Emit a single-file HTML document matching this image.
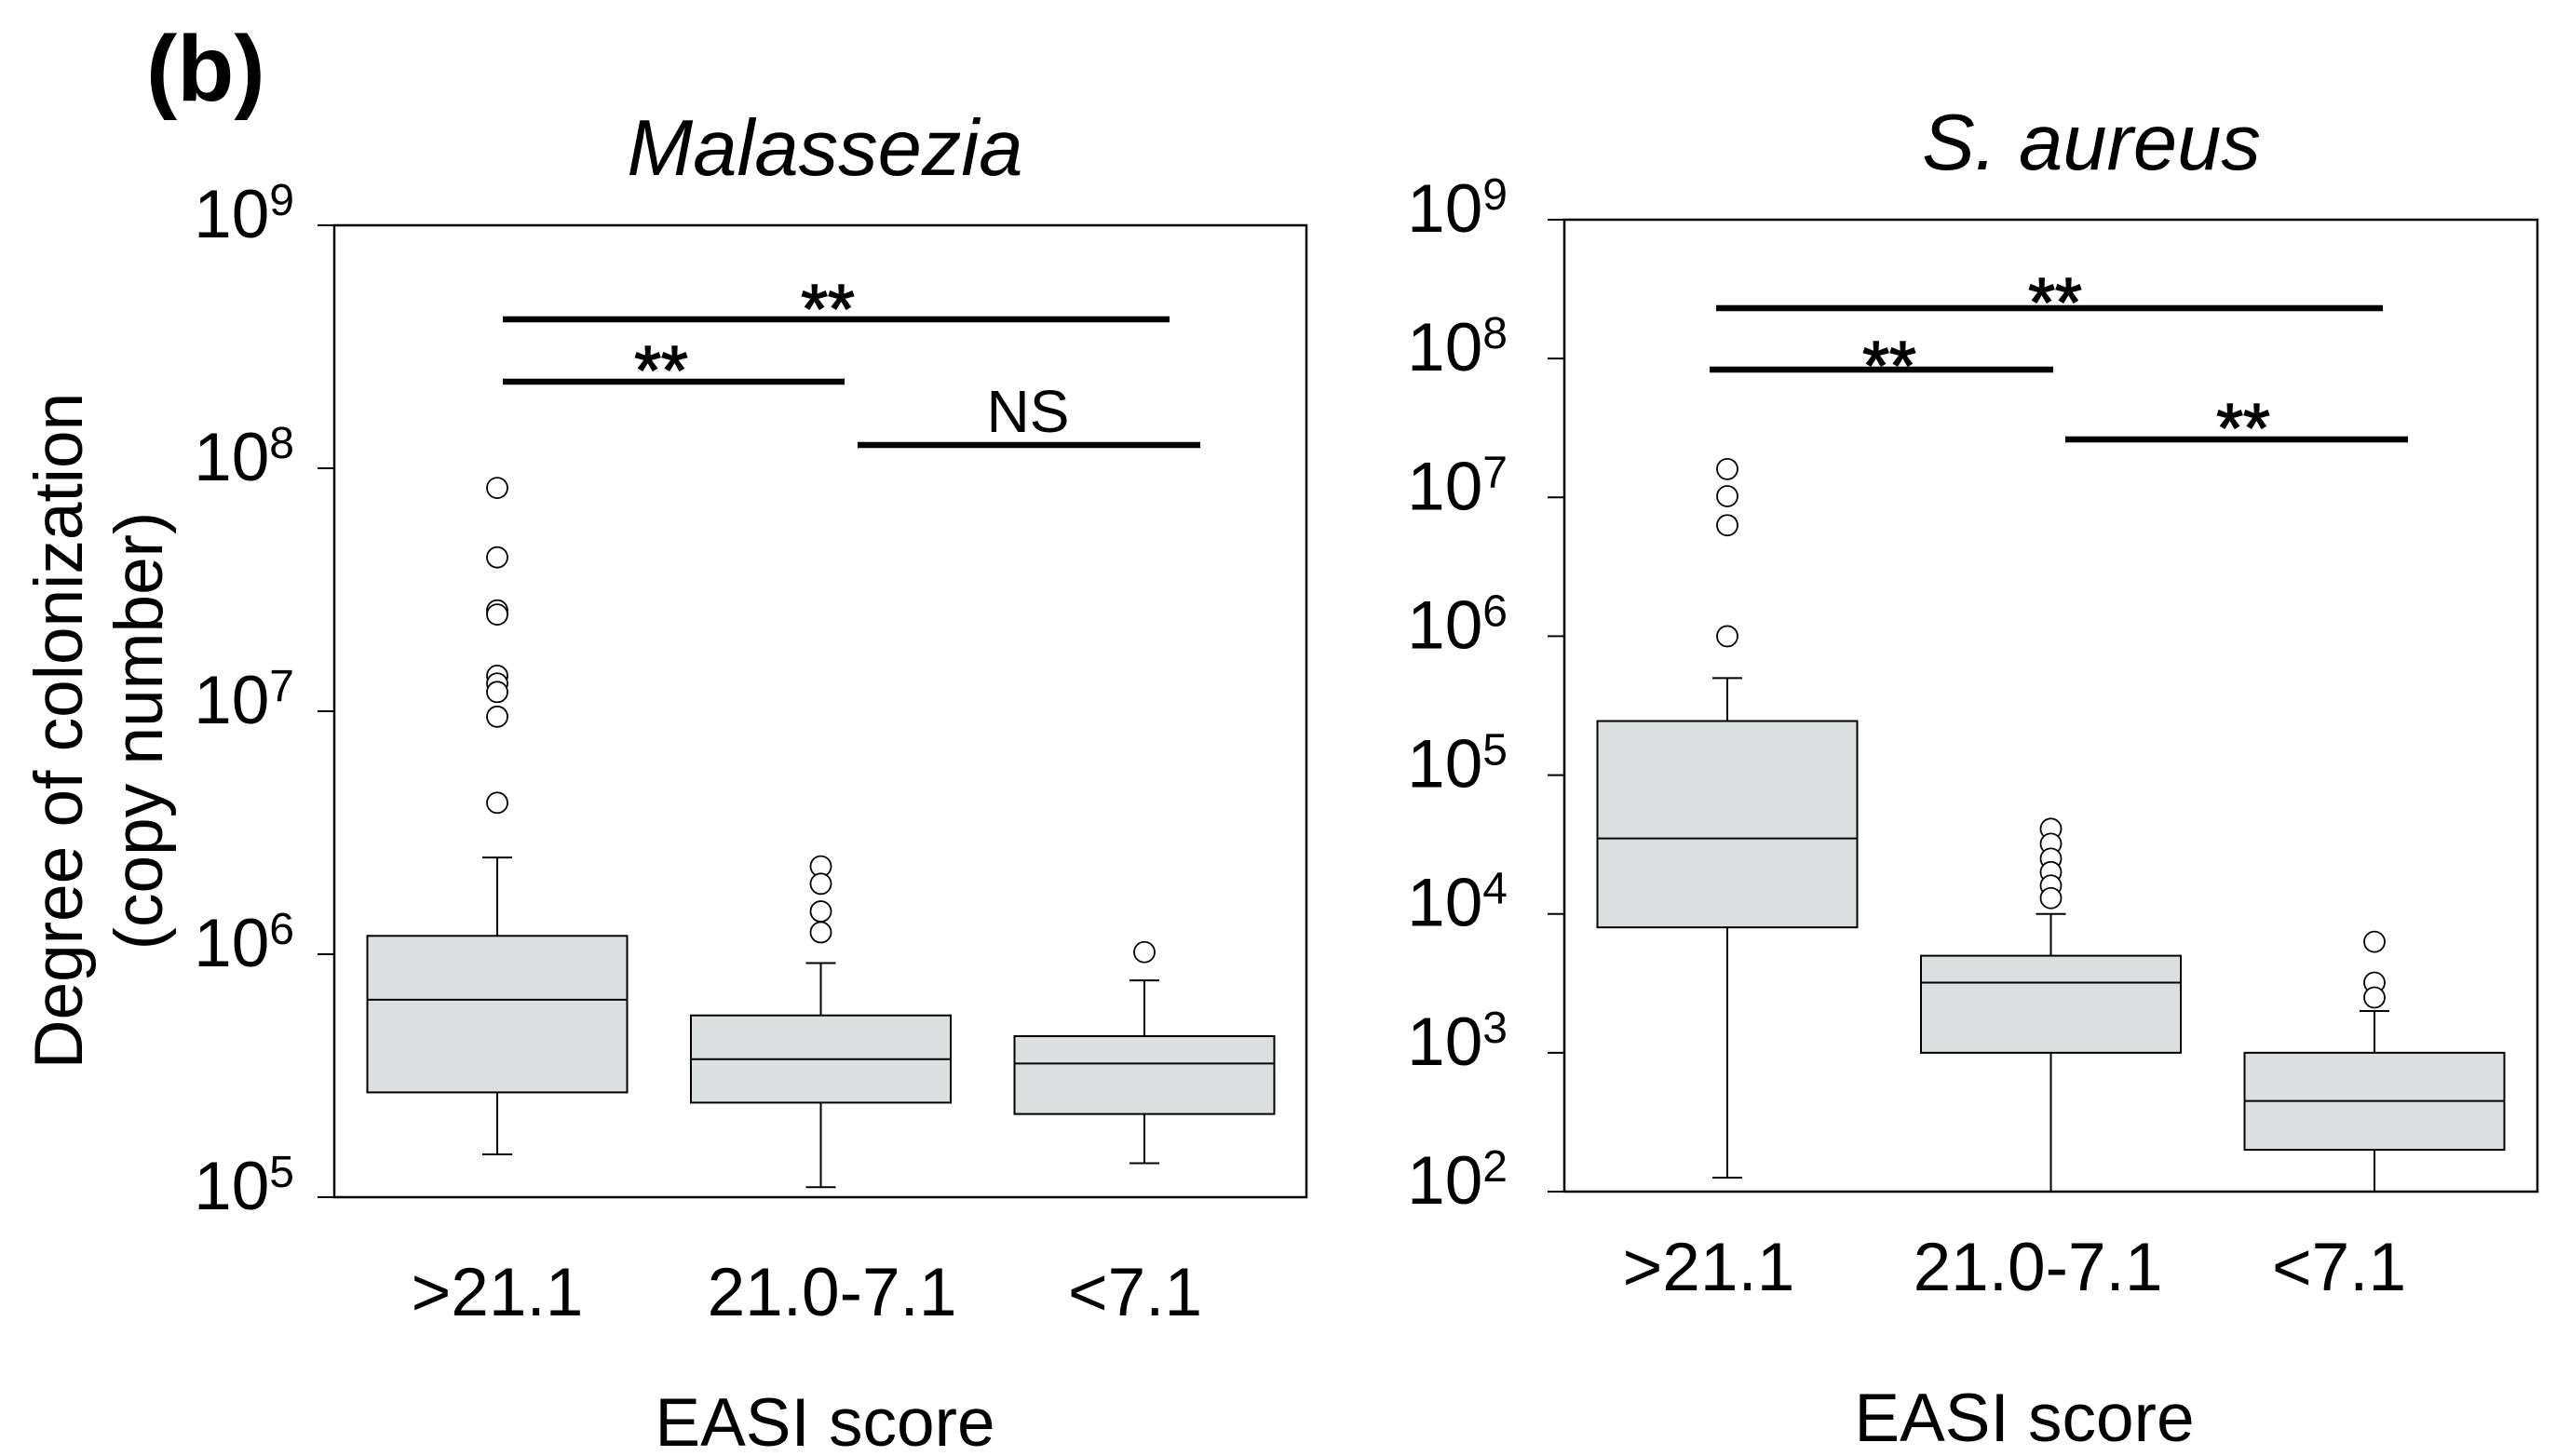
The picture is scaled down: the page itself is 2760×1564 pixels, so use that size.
<!DOCTYPE html>
<html><head><meta charset="utf-8">
<style>
html,body{margin:0;padding:0;background:#fff;}
svg{display:block;font-family:"Liberation Sans",Arial,sans-serif;}
</style></head>
<body>
<svg id="fig" width="2760" height="1564" viewBox="0 0 2760 1564" xmlns="http://www.w3.org/2000/svg">
<text x="157" y="108" font-size="100" font-weight="bold">(b)</text>
<text transform="translate(88,785) rotate(-90)" text-anchor="middle" font-size="73">Degree of colonization</text>
<text transform="translate(174,785) rotate(-90)" text-anchor="middle" font-size="73">(copy number)</text>
</svg>
<script>
const categories = [">21.1", "21.0-7.1", "<7.1"];
// Malassezia (copy number)
const malQ1 = [2.7e5, 2.45e5, 2.2e5];
const malQ3 = [1.19e6, 5.6e5, 4.6e5];
const malMedian = [6.5e5, 3.7e5, 3.55e5];
const malWhiskerLow = [1.5e5, 1.1e5, 1.38e5];
const malWhiskerHigh = [2.5e6, 9.2e5, 7.8e5];
const malOutliers = [[8.3e7,4.3e7,2.6e7,2.5e7,1.4e7,1.3e7,1.2e7,9.5e6,4.2e6],[2.3e6,1.95e6,1.5e6,1.23e6],[1.02e6]];
const malTickExps = [5,6,7,8,9];
// S. aureus (copy number)
const saQ1 = [8e3, 1e3, 2e2];
const saQ3 = [2.45e5, 5e3, 1e3];
const saMedian = [3.5e4, 3.2e3, 4.5e2];
const saWhiskerLow = [1.26e2, 1e2, 1e2];
const saWhiskerHigh = [5e5, 1e4, 2e3];
const saOutliers = [[1.6e7,1.02e7,6.3e6,1e6],[4.1e4,3.2e4,2.5e4,2e4,1.6e4,1.3e4],[6.3e3,3.2e3,2.5e3]];
const saTickExps = [2,3,4,5,6,7,8,9];
// significance annotations: [fromGroup, toGroup, label]
const malSig = [[0,2,"**"],[0,1,"**"],[1,2,"NS"]];
const saSig = [[0,2,"**"],[0,1,"**"],[1,2,"**"]];

const NS = "http://www.w3.org/2000/svg";
const svg = document.getElementById('fig');
function mk(tag, attrs, parent){
  const e = document.createElementNS(NS, tag);
  for (const k in attrs) e.setAttribute(k, attrs[k]);
  (parent||svg).appendChild(e);
  return e;
}

function panel(cfg){
  const g = mk('g', {});
  
  
  const minE = cfg.ticks[0], maxE = cfg.ticks[cfg.ticks.length-1];
  const y = v => cfg.bottom - (Math.log10(v) - minE) / (maxE - minE) * (cfg.bottom - cfg.top);
  const x = i => cfg.x0 + i * cfg.step;
  const t = mk('text', {x: cfg.titleX, y: cfg.titleY, 'text-anchor':'middle', 'font-size':85, 'font-style':'italic'}, g);
  t.textContent = cfg.title;
  
  
  const fr = mk('rect', {x: cfg.left, y: cfg.top, width: cfg.right-cfg.left, height: cfg.bottom-cfg.top, fill:'none', stroke:'#000', 'stroke-width':2.5}, g);
  
  
  cfg.ticks.forEach(e => {
    const ty = y(Math.pow(10, e));
    const tk = mk('line', {x1: cfg.left-18, x2: cfg.left, y1: ty, y2: ty, stroke:'#000', 'stroke-width':2}, g);
    
    
    const lb = mk('text', {x: cfg.labelRight, y: ty+13, 'text-anchor':'end', 'font-size':73}, g);
    
    
    const base = mk('tspan', {}, lb); base.textContent = '10';
    const sup = mk('tspan', {'font-size':48, dy:-24}, lb); sup.textContent = String(e);
  });
  const hw = 139.5, cap = 16;
  categories.forEach((c, i) => {
    const cx = x(i);
    const bg = mk('g', {}, g);
    
    
    const yLo = y(cfg.wlo[i]), yHi = y(cfg.whi[i]), yQ1 = y(cfg.q1[i]), yQ3 = y(cfg.q3[i]), yM = y(cfg.med[i]);
    mk('line', {x1:cx, x2:cx, y1:yHi, y2:yQ3, stroke:'#000', 'stroke-width':2}, bg);
    mk('line', {x1:cx, x2:cx, y1:yQ1, y2:yLo, stroke:'#000', 'stroke-width':2}, bg);
    mk('line', {x1:cx-cap, x2:cx+cap, y1:yHi, y2:yHi, stroke:'#000', 'stroke-width':2}, bg);
    if (yLo < cfg.bottom - 3) mk('line', {x1:cx-cap, x2:cx+cap, y1:yLo, y2:yLo, stroke:'#000', 'stroke-width':2}, bg);
    mk('rect', {x:cx-hw, y:yQ3, width:2*hw, height:yQ1-yQ3, fill:'#dbdfdf', stroke:'#000', 'stroke-width':2}, bg);
    mk('line', {x1:cx-hw, x2:cx+hw, y1:yM, y2:yM, stroke:'#000', 'stroke-width':2}, bg);
    cfg.out[i].forEach(v => {
      const o = mk('circle', {cx:cx, cy:y(v), r:11, fill:'#fff', stroke:'#000', 'stroke-width':1.8}, bg);
      
      
    });
    const xl = mk('text', {x:cx + cfg.labelDx[i], y:cfg.xLabelY, 'text-anchor':'middle', 'font-size':73}, g);
    xl.textContent = c;
    
    
  });
  cfg.sig.forEach((s, k) => {
    const b = cfg.bars[k];
    const sg = mk('g', {}, g);
    
    
    mk('line', {x1:b[0], x2:b[1], y1:b[2], y2:b[2], stroke:'#000', 'stroke-width':6.5}, sg);
    const st = s[2] === 'NS'
      ? mk('text', {x:b[3], y:b[4], 'text-anchor':'middle', 'font-size':64}, sg)
      : mk('text', {x:b[3], y:b[4]+32, 'text-anchor':'middle', 'font-size':74, stroke:'#000', 'stroke-width':1.5}, sg);
    st.textContent = s[2];
  });
  const xt = mk('text', {x: cfg.xTitleX, y: cfg.xTitleY, 'text-anchor':'middle', 'font-size':73}, g);
  xt.textContent = 'EASI score';
  
  
}

panel({name:'malassezia-panel', title:'Malassezia', titleX:886, titleY:188,
  left:359, right:1403, top:242, bottom:1286, ticks:malTickExps, labelRight:316,
  x0:534, step:347.5, q1:malQ1, q3:malQ3, med:malMedian, wlo:malWhiskerLow, whi:malWhiskerHigh, out:malOutliers,
  sig:malSig, bars:[[540,1256,343,889,325],[540,907,410,710,391],[921,1289,478,1104,464]],
  labelDx:[0,12,-10],
  xLabelY:1413, xTitleX:886, xTitleY:1553});

panel({name:'s-aureus-panel', title:'S. aureus', titleX:2246, titleY:182,
  left:1680, right:2725, top:236, bottom:1280, ticks:saTickExps, labelRight:1619,
  x0:1855, step:347.5, q1:saQ1, q3:saQ3, med:saMedian, wlo:saWhiskerLow, whi:saWhiskerHigh, out:saOutliers,
  sig:saSig, bars:[[1843,2559,331,2207,318],[1836,2205,397,2029,386],[2218,2586,472,2409,453]],
  labelDx:[-20,-14,-38],
  xLabelY:1386, xTitleX:2174, xTitleY:1548});
</script>
</body></html>
